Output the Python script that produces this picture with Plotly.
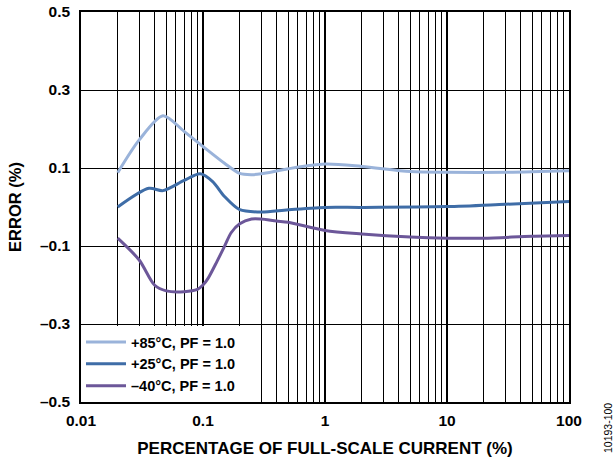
import plotly.graph_objects as go

x_85 = [0.02, 0.03, 0.047, 0.07, 0.1, 0.15, 0.2, 0.25, 0.3, 0.5, 1, 2, 5, 10, 30, 100]
y_85 = [0.088, 0.172, 0.234, 0.194, 0.155, 0.112, 0.086, 0.083, 0.085, 0.098, 0.110, 0.104, 0.091, 0.089, 0.089, 0.093]

x_25 = [0.02, 0.036, 0.047, 0.07, 0.095, 0.12, 0.15, 0.2, 0.3, 0.5, 1, 2, 10, 30, 100]
y_25 = [0.0, 0.048, 0.042, 0.068, 0.085, 0.065, 0.027, -0.007, -0.013, -0.007, -0.001, -0.001, 0.001, 0.007, 0.014]

x_40 = [0.02, 0.03, 0.04, 0.05, 0.07, 0.09, 0.1, 0.11, 0.13, 0.15, 0.17, 0.2, 0.25, 0.3, 0.4, 0.5, 1, 2, 5, 10, 20, 50, 100]
y_40 = [-0.08, -0.136, -0.2, -0.215, -0.217, -0.211, -0.2, -0.183, -0.14, -0.101, -0.066, -0.043, -0.031, -0.031, -0.036, -0.039, -0.06, -0.069, -0.077, -0.08, -0.08, -0.075, -0.073]

series_names = ["+85°C, PF = 1.0", "+25°C, PF = 1.0", "\u201340°C, PF = 1.0"]
series_colors = ["#9AB3DA", "#3F6DA7", "#6C5799"]

x_tickvals = [0.01, 0.1, 1, 10, 100]
x_ticktext = ["0.01", "0.1", "1", "10", "100"]
y_tickvals = [0.5, 0.3, 0.1, -0.1, -0.3, -0.5]
y_ticktext = ["0.5", "0.3", "0.1", "\u20130.1", "\u20130.3", "\u20130.5"]

FONT = "Liberation Sans, Arial, sans-serif"

fig = go.Figure()
for xs, ys, name, col in zip([x_85, x_25, x_40], [y_85, y_25, y_40], series_names, series_colors):
    fig.add_trace(go.Scatter(
        x=xs, y=ys, mode="lines", name=name,
        line=dict(color=col, width=3, shape="spline", smoothing=0.8),
    ))

fig.update_layout(
    width=615, height=460,
    margin=dict(l=81, r=46, t=12, b=58, autoexpand=False),
    paper_bgcolor="white", plot_bgcolor="white",
    font=dict(family=FONT, size=15, color="black"),
    showlegend=True,
    legend=dict(
        x=0, y=0, xanchor="left", yanchor="bottom",
        bgcolor="white", borderwidth=0,
        font=dict(family=FONT, size=14.5, color="black", weight="bold"),
        tracegroupgap=0, itemwidth=40,
    ),
    xaxis=dict(
        type="log", range=[-2, 2], automargin=False,
        tickvals=x_tickvals, ticktext=x_ticktext,
        tickfont=dict(family=FONT, size=15.5, weight="bold"),
        ticklabelstandoff=4,
        showgrid=True, gridcolor="black", gridwidth=2,
        minor=dict(dtick="D1", showgrid=True, gridcolor="black", gridwidth=1, ticks=""),
        showline=True, linecolor="black", linewidth=1.5, mirror=True,
        ticks="", zeroline=False,
        title=dict(text="PERCENTAGE OF FULL-SCALE CURRENT (%)",
                   font=dict(family=FONT, size=17, weight="bold"), standoff=14),
    ),
    yaxis=dict(
        range=[-0.5, 0.5], automargin=False,
        tickvals=y_tickvals, ticktext=y_ticktext,
        tickfont=dict(family=FONT, size=15.5, weight="bold"),
        ticklabelstandoff=6, ticklabeloverflow="allow",
        showgrid=True, gridcolor="black", gridwidth=1,
        showline=True, linecolor="black", linewidth=1.5, mirror=True,
        ticks="", zeroline=False,
        title=dict(text="ERROR (%)",
                   font=dict(family=FONT, size=16.5, weight="bold"), standoff=14),
    ),
    annotations=[dict(
        text="10193-100", xref="paper", yref="paper",
        x=1.0, y=0.0, xshift=39, yshift=1, textangle=-90,
        showarrow=False, xanchor="center", yanchor="top",
        font=dict(family=FONT, size=10.5, color="black"),
    )],
)

fig.write_html("out.html", config={"displayModeBar": False},
               post_script="document.body.style.margin='0';")
